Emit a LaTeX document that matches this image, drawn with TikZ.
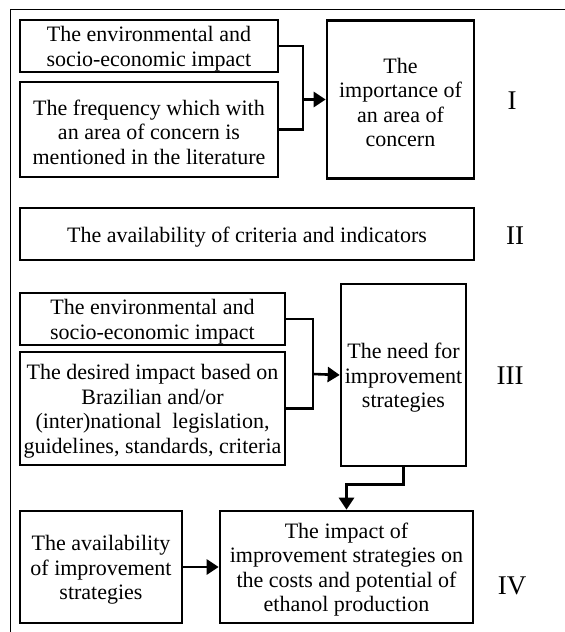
\documentclass[tikz,border=0pt]{standalone}
\usepackage{fontspec}
\setmainfont{Liberation Serif}
\usetikzlibrary{arrows.meta}

% taller first line, so the text sits a little low in its box
\newcommand{\boxstrut}{\rule{0pt}{21pt}}

\tikzset{
  box/.style={draw, line width=2.6pt, inner sep=0pt, align=center},
  link/.style={line width=2.6pt},
  arr/.style={line width=2.6pt, -{Triangle[length=12pt,width=15pt]}},
  step label/.style={font=\fontsize{27}{30}\selectfont},
}

\begin{document}
\begin{tikzpicture}[x=1pt,y=-1pt,font=\fontsize{22}{24.5}\selectfont]
\useasboundingbox (0,0) rectangle (565,632);
\path[draw,line width=1pt] (10.5,632) -- (10.5,9.5) -- (565,9.5);

% step I
\node[box, minimum width=258pt, minimum height=52pt] (a1) at (149,46) {\boxstrut The environmental and\\socio-economic impact};
\node[box, minimum width=258pt, minimum height=95pt] (a2) at (149,129.5) {\boxstrut The frequency which with\\an area of concern is\\mentioned in the literature};
\node[box, minimum width=147pt, minimum height=158pt] (b1) at (400.5,99.5) {\boxstrut The\\importance of\\an area of\\concern};
\coordinate (ja) at (303,99.5);
\path[draw,link] (a1.east) -| (ja) |- (a2.east);
\path[draw,arr] (ja) -- (b1.west);
\node[step label] (s1) at (512,101) {I};

% step II
\node[box, minimum width=454pt, minimum height=52pt] (c0) at (247,234) {\boxstrut The availability of criteria and indicators};
\node[step label] (s2) at (515,236) {II};

% step III
\node[box, minimum width=265pt, minimum height=52pt] (c1) at (152.5,319) {\boxstrut The environmental and\\socio-economic impact};
\node[box, minimum width=265pt, minimum height=113pt] (c2) at (152.5,408.5) {\boxstrut The desired impact based on\\Brazilian and/or\\(inter)national\ \ legislation,\\guidelines, standards, criteria};
\node[box, minimum width=125pt, minimum height=182pt] (d1) at (403.5,375) {\boxstrut The need for\\improvement\\strategies};
\coordinate (jc) at (313,374);
\path[draw,link] (c1.east) -| (jc) |- (c2.east);
\path[draw,arr] (jc) -- (d1.west);
\node[step label] (s3) at (510,376) {III};

% step IV
\node[box, minimum width=162pt, minimum height=112pt] (e1) at (101,567) {\boxstrut The availability\\of improvement\\strategies};
\node[box, minimum width=253pt, minimum height=112pt] (e2) at (346.5,567) {\boxstrut The impact of\\improvement strategies on\\the costs and potential of\\ethanol production};
\path[draw,arr] (d1.south) -- ++(0,17) -| (e2.north);
\path[draw,arr] (e1.east) -- (e2.west);
\node[step label] (s4) at (512,586) {IV};
\end{tikzpicture}
\end{document}
